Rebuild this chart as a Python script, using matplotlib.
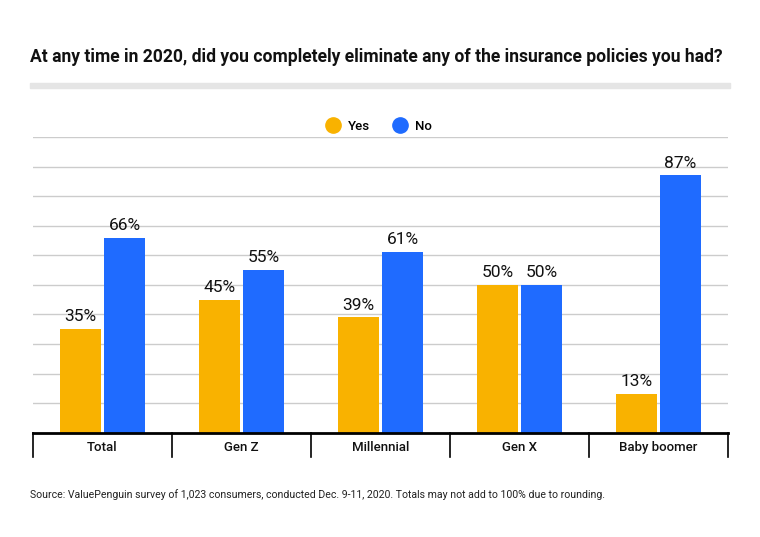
import matplotlib
matplotlib.use("Agg")
import matplotlib.pyplot as plt
from matplotlib.lines import Line2D
import matplotlib.transforms as mtransforms

categories = ["Total", "Gen Z", "Millennial", "Gen X", "Baby boomer"]
yes_vals = [35, 45, 39, 50, 13]
no_vals = [66, 55, 61, 50, 87]
series_names = ["Yes", "No"]
title = "At any time in 2020, did you completely eliminate any of the insurance policies you had?"
source = "Source: ValuePenguin survey of 1,023 consumers, conducted Dec. 9-11, 2020. Totals may not add to 100% due to rounding."

YELLOW = "#F9B200"
BLUE = "#1F6BFF"

plt.rcParams['font.family'] = ['Roboto', 'DejaVu Sans']

W, H = 760, 537
fig = plt.figure(figsize=(W / 100, H / 100), dpi=100)
fig.patch.set_facecolor("white")

left, right = 33 / W, 728 / W
bottom, top = 1 - 432.7 / H, 1 - 137 / H
ax = fig.add_axes([left, bottom, right - left, top - bottom])

x = list(range(len(categories)))
bw = 0.30
off = 0.158
b1 = ax.bar([i - off for i in x], yes_vals, width=bw, color=YELLOW, zorder=3)
b2 = ax.bar([i + off for i in x], no_vals, width=bw, color=BLUE, zorder=3)

for bars, vals in ((b1, yes_vals), (b2, no_vals)):
    for r, v in zip(bars, vals):
        ax.annotate(f"{v}%", (r.get_x() + r.get_width() / 2, r.get_height()),
                    xytext=(0, 3.5), textcoords="offset points", ha="center", va="bottom",
                    fontsize=12.5, fontweight="normal", color="#111111")

ax.set_xlim(-0.5, len(categories) - 0.5)
ax.set_ylim(0, 100)
ax.set_yticks(range(10, 101, 10))
ax.yaxis.grid(True, color="#cccccc", linewidth=1, zorder=0)
ax.tick_params(axis="y", length=0, labelleft=False)
ax.set_xticks(x)
ax.set_xticklabels(categories, fontsize=9.5, fontweight="medium", color="#111111")
ax.tick_params(axis="x", length=0, pad=6)
for s in ("top", "right", "left"):
    ax.spines[s].set_visible(False)
ax.spines["bottom"].set_color("black")
ax.spines["bottom"].set_linewidth(2)
ax.spines["bottom"].set_zorder(4)

trans = mtransforms.blended_transform_factory(ax.transData, ax.transAxes)
for d in [i - 0.5 for i in range(len(categories) + 1)]:
    ax.add_line(Line2D([d, d], [0, -24 / (432.7 - 137)], transform=trans,
                       color="black", linewidth=1.2, clip_on=False))

# title
fig.text(30 / W, 1 - 57 / H, title, fontsize=12.65, fontweight="bold", color="#111111",
         ha="left", va="center")
# gray band
fig.patches.append(plt.Rectangle((30 / W, 1 - 88 / H), 700 / W, 5 / H,
                                 transform=fig.transFigure, color="#e5e5e5"))

# legend
handles = [Line2D([], [], marker="o", linestyle="", markersize=11, color=c) for c in (YELLOW, BLUE)]
fig.legend(handles, series_names, loc="center", bbox_to_anchor=(379 / W, 1 - 126 / H),
           ncol=2, frameon=False, handletextpad=0.6, columnspacing=1.8,
           handlelength=1.0, prop={"weight": "medium", "size": 9.5})

fig.text(30 / W, 1 - 495 / H, source, fontsize=7.6, color="#222222", ha="left", va="center")

fig.savefig("out.png", dpi=100, facecolor="white")
